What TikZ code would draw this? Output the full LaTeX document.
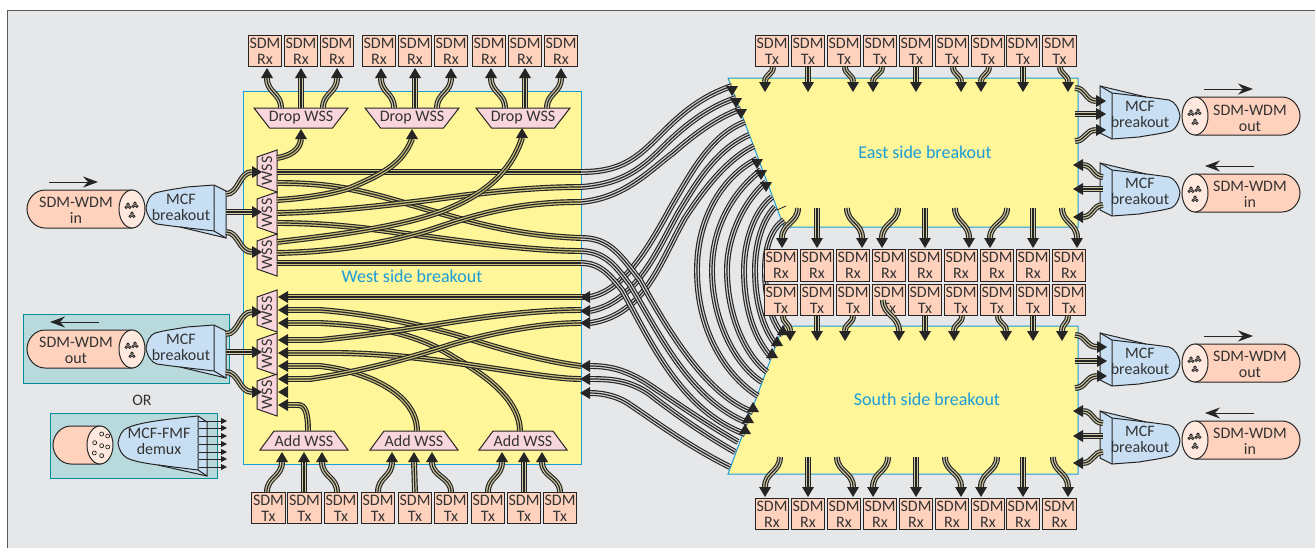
\documentclass[tikz,border=0pt]{standalone}
\usepackage{fontspec}
\setmainfont{Carlito}
\usetikzlibrary{arrows.meta}
\definecolor{cdark}{HTML}{262525}
\definecolor{ctext}{HTML}{333333}
\definecolor{cbg}{HTML}{E6E7E9}
\definecolor{cyel}{HTML}{FFF599}
\definecolor{cblue}{HTML}{1A9DD9}
\definecolor{cpeach}{HTML}{FFD2BE}
\definecolor{cpeachl}{HTML}{FFE8DD}
\definecolor{cpink}{HTML}{F9D5DC}
\definecolor{cmcf}{HTML}{C8DFF3}
\definecolor{cteal}{HTML}{B9DADC}
\definecolor{ctealb}{HTML}{008C99}
\tikzset{
  cableY/.style={draw=cdark,line width=5.9pt,postaction={draw=cyel!80!black,line width=3.6pt},postaction={draw=cdark,line width=1.2pt}},
  cableG/.style={draw=cdark,line width=5.9pt,postaction={draw=cbg!92!black,line width=3.6pt},postaction={draw=cdark,line width=1.2pt}},
  cableM/.style={draw=cdark,line width=5.9pt,postaction={draw=cbg!50!cyel!85!black,line width=3.6pt},postaction={draw=cdark,line width=1.2pt}},
  sdm/.style={draw=cdark,line width=1.2pt,fill=cpeach,minimum width=33.5pt,minimum height=31.5pt,inner sep=0pt,align=center,text=ctext,font=\fontsize{16}{16}\selectfont},
  lab/.style={inner sep=0pt,align=center,text=ctext,font=\fontsize{16}{16}\selectfont},
  area/.style={draw=cblue,line width=1pt,fill=cyel},
  arealab/.style={inner sep=0pt,text=cblue,font=\fontsize{18}{20}\selectfont},
  wssbox/.style={draw=cdark,line width=1pt,fill=cpink},
  tealbox/.style={draw=ctealb,line width=1pt,fill=cteal},
  flowarrow/.style={draw=cdark,line width=1pt,-{Stealth[length=15pt,width=11pt,inset=5pt]}},
  thinarrow/.style={draw=cdark,line width=.8pt,-{Triangle[length=6pt,width=6pt]}},
}
\newcommand\captip[2]{\fill[cdark,shift={(#1)},rotate=#2] (0,-6) -- (10,0) -- (0,6) -- cycle;}
\newcommand\vgroup[6]{%
  \pgfmathsetmacro\midy{(#3+#4)/2}
  \foreach \n/\a/\c in {#2}{
    \coordinate (#1t\n) at (\a,#3);
    \coordinate (#1b\n) at (\c,#4);
    \draw[#6] (#1t\n) .. controls (\a,\midy) and (\c,\midy) .. (#1b\n);
    \captip{#1b\n}{#5}
  }}
\newcommand\clusters{%
  \foreach \u/\v in {-4/-3,3/-4,0/6}{
    \foreach \p/\q in {0/-1.7,-1.8/1.2,1.8/1.2}{
      \draw[cdark,line width=.8pt] (\u+\p,\v+\q) circle[radius=1.3pt];
    }}}
% fibre: ellipse centre at origin, body to the left (s=1) or right (s=-1)
\newcommand\fibre[4]{%
  \begin{scope}[shift={(#1,#2)}]
  \begin{scope}[xscale=#3]
  \filldraw[draw=cdark,line width=1pt,fill=cpeach] (0,-19) -- (#4+18,-19) .. controls (#4+8,-19) and (#4,-10) .. (#4,0) .. controls (#4,10) and (#4+8,19) .. (#4+18,19) -- (0,19) -- cycle;
  \end{scope}
  \filldraw[draw=cdark,line width=1pt,fill=cpeachl] (0,0) ellipse[x radius=13pt,y radius=19pt];
  \end{scope}}
\newcommand\mcfshape[3]{%
  \begin{scope}[shift={(#1,#2)},rotate=#3]
  \filldraw[draw=cdark,line width=1pt,fill=cmcf] (0,0) .. controls (1,-7) and (4,-13) .. (9,-15) .. controls (20,-18) and (30,-19) .. (41,-21) -- (68,-23) -- (80,-17) -- (80,30) -- (34,19) .. controls (25,18) and (18,17) .. (11,16) .. controls (6,15) and (1,8) .. (0,0) -- cycle;
  \draw[cdark,line width=1pt] (68,-23) -- (68,23) -- (80,30) (34,19) -- (68,23);
  \end{scope}}
\begin{document}
\begin{tikzpicture}[x=1pt,y=-1pt]
\useasboundingbox (0,0) rectangle (1315,547);
\fill[white] (0,0) rectangle (1315,547);
\filldraw[draw=black!65,line width=1pt,fill=cbg] (7,10) rectangle (1325,560);

% areas
\filldraw[area] (243,91) rectangle (581,464);
\filldraw[area] (728,78) -- (1078,78) -- (1078,227) -- (784,227) -- cycle;
\filldraw[area] (783,326) -- (1078,326) -- (1078,474) -- (728,474) -- cycle;
\node[arealab] (westlab) at (412,276) {West side breakout};
\node[arealab] (eastlab) at (925,152) {East side breakout};
\node[arealab] (southlab) at (927,399) {South side breakout};

% teal panels
\filldraw[tealbox] (23,314) rectangle (229,383);
\filldraw[tealbox] (50,413) rectangle (217,478);
\node[lab] (orlab) at (142,400) {OR};

% fibres
\fibre{132}{209}{1}{-105}
\begin{scope}[shift={(132,209)}]\clusters\end{scope}
\fibre{132}{349}{1}{-105}
\begin{scope}[shift={(132,349)}]\clusters\end{scope}
\fibre{100}{445}{1}{-47}
\begin{scope}[shift={(100,445)}]
\foreach \u/\v in {1.7/-11,7.7/-9,-5.3/-2.3,1.7/.7,7.7/2,-5.7/8,1.7/10.7}{\draw[cdark,line width=.7pt] (\u,\v) circle[radius=2pt];}
\end{scope}
\foreach \y in {116,193,363,440}{
  \fibre{1195}{\y}{-1}{-105}
  \begin{scope}[shift={(1195,\y)}]\clusters\end{scope}
}
\node[lab] (f1) at (76,210) {SDM-WDM\\in};
\node[lab] (f2) at (76,350) {SDM-WDM\\out};
\node[lab] (f3) at (1250,118) {SDM-WDM\\out};
\node[lab] (f4) at (1250,194) {SDM-WDM\\in};
\node[lab] (f5) at (1250,364.5) {SDM-WDM\\out};
\node[lab] (f6) at (1250,441) {SDM-WDM\\in};

% direction arrows
\foreach \n/\xa/\ya/\xb in {a/49/182/98,b/99/322/50,c/1204/89/1253,d/1254/166/1205,e/1204/336/1253,f/1254/413/1205}{
  \coordinate (dir\n s) at (\xa,\ya);
  \coordinate (dir\n e) at (\xb,\ya);
  \draw[flowarrow] (dir\n s) -- (dir\n e);
}

% MCF breakouts
\mcfshape{146}{208}{0}
\mcfshape{146}{348}{0}
\mcfshape{1180}{116}{180}
\mcfshape{1180}{193}{180}
\mcfshape{1180}{363}{180}
\mcfshape{1180}{441}{180}
\node[lab] (m1) at (181,207) {MCF\\breakout};
\node[lab] (m2) at (181,347) {MCF\\breakout};
\node[lab] (m3) at (1140,114.5) {MCF\\breakout};
\node[lab] (m4) at (1140,191.5) {MCF\\breakout};
\node[lab] (m5) at (1140,361.5) {MCF\\breakout};
\node[lab] (m6) at (1140,439.5) {MCF\\breakout};

% demux
\begin{scope}[shift={(118,443)}]
\filldraw[draw=cdark,line width=1pt,fill=cmcf] (0,0) .. controls (1,-7) and (4,-13) .. (9,-15) .. controls (20,-20) and (40,-23) .. (80,-27) -- (89,-21) -- (89,33) -- (40,22) .. controls (25,20) and (15,18) .. (9,15) .. controls (4,12) and (1,7) .. (0,0) -- cycle;
\draw[cdark,line width=1pt] (80,-27) -- (80,27) -- (89,33) (40,22) -- (80,27);
\end{scope}
\node[lab] (dmx) at (159,441) {MCF-FMF\\demux};
\foreach \n/\y in {1/421,2/428,3/436,4/444,5/452,6/459,7/467}{
  \coordinate (dx\n) at (199,\y);
  \coordinate (dy\n) at (227,\y);
  \draw[thinarrow] (dx\n) -- (dy\n);
}

% WSS shapes
\foreach \n/\c in {1/171,2/213,3/255,4/311,5/354,6/395}{
  \filldraw[wssbox] (277,\c-21) -- (277,\c+21) -- (257,\c+14) -- (257,\c-14) -- cycle;
  \node[lab,rotate=90] (wss\n) at (267,\c) {WSS};
}
\foreach \n/\c in {1/301,2/412,3/523}{
  \filldraw[wssbox] (\c-47,108) -- (\c+47,108) -- (\c+31.5,128) -- (\c-31.5,128) -- cycle;
  \node[lab] (drop\n) at (\c,118) {Drop WSS};
}
\foreach \n/\c in {1/304,2/414,3/523}{
  \filldraw[wssbox] (\c-44,450) -- (\c+44,450) -- (\c+30,431) -- (\c-30,431) -- cycle;
  \node[lab] (add\n) at (\c,441) {Add WSS};
}

% named ports
\foreach \n/\x/\y in {
 wa/277/172,wb/277/183,wc/277/158,wd/277/200,we/277/213,wf/277/223,wg/277/242,wh/277/253,wi/277/263,
 be1/581/172,be2/581/187,be3/581/202,bs1/581/238,bs2/581/251,bs3/581/263,
 dp1/301/139,dp2/412/139,dp3/522/138,
 ia1/288/297,ia2/288/310,ia3/288/323,ib1/288/340,ib2/288/353,ib3/288/366,ic1/288/379,ic2/288/392,ic3/288/405,
 ra1/590/297,ra2/590/311,ra3/590/323,rb1/590/366,rb2/590/379,rb3/590/393,
 ee1/732/86,ee2/736/98,ee3/741/109,et1/745/122,et2/749/135,et3/754/146,
 ef1/757/159,ef2/761/170,ef3/766/182,eg1/772/197,eg2/775/207,eg3/784/220,
 sh1/783/335,sh2/777/346,sh3/772/358,si1/767/372,si2/762/382,si3/758/396,
 sj1/753/412,sj2/748/423,sj3/745/434,sk1/738/442,sk2/735/452,sk3/730/467,
 addp1/308/431,addp2/417/431,addp3/520/431,strayA/777/210,strayB/786/206}{
  \coordinate (\n) at (\x,\y);
}

% west interior cables
\draw[cableY] (wa) -- (be1);
\draw[cableY] (wi) -- (bs3);
\draw[cableY] (ia1) -- (ra1);
\draw[cableY] (wb) .. controls (320,183) and (345,187) .. (380,196) .. controls (450,215) and (500,235) .. (bs1);
\draw[cableY] (we) .. controls (330,212) and (380,206) .. (430,200) .. controls (480,193) and (530,187) .. (be2);
\draw[cableY] (wf) .. controls (320,223) and (360,227) .. (400,233) .. controls (460,241) and (530,251) .. (bs2);
\draw[cableY] (wh) .. controls (330,252) and (380,245) .. (430,230) .. controls (480,213) and (520,202) .. (be3);
\draw[cableY] (wc) .. controls (290,156) and (300,150) .. (dp1);
\draw[cableY] (wd) .. controls (310,198) and (335,193) .. (350,188) .. controls (380,175) and (402,165) .. (dp2);
\draw[cableY] (wg) .. controls (330,236) and (395,228) .. (440,212) .. controls (480,197) and (510,175) .. (dp3);

\draw[cableY] (ia2) -- (320,310) .. controls (375,314) and (435,328) .. (473,340) .. controls (510,352) and (550,362) .. (581,366);
\draw[cableY] (ia3) -- (320,323) .. controls (380,326) and (420,335) .. (455,358) .. controls (495,380) and (520,405) .. (addp3);
\draw[cableY] (ib1) -- (320,340) .. controls (360,336) and (395,331) .. (427,326) .. controls (475,318) and (530,310) .. (581,310);
\draw[cableY] (ib2) -- (340,353) .. controls (400,354) and (450,362) .. (490,368) .. controls (530,374) and (560,379) .. (581,379);
\draw[cableY] (ib3) -- (320,366) .. controls (370,372) and (417,395) .. (addp2);
\draw[cableY] (ic1) -- (310,379) .. controls (360,372) and (410,358) .. (450,345) .. controls (490,333) and (540,323) .. (581,323);
\draw[cableY] (ic3) -- (298,405) .. controls (305,405) and (308,412) .. (addp1);

% west <-> east
\draw[cableG] (be1) .. controls (625,172) and (640,155) .. (665,130) .. controls (685,110) and (705,95) .. (ee1);
\draw[cableG] (be2) .. controls (625,184) and (645,165) .. (663,147) .. controls (680,130) and (705,108) .. (ee2);
\draw[cableG] (be3) .. controls (625,198) and (650,170) .. (673,153) .. controls (690,138) and (715,118) .. (ee3);
\draw[cableG] (et1) .. controls (710,135) and (690,175) .. (672,205) .. controls (650,245) and (625,290) .. (ra1);
\draw[cableG] (et2) .. controls (715,150) and (695,185) .. (678,213) .. controls (655,255) and (635,302) .. (ra2);
\draw[cableG] (et3) .. controls (725,160) and (700,195) .. (685,218) .. controls (660,262) and (645,315) .. (ra3);
% west <-> south
\draw[cableG] (sk1) .. controls (700,420) and (665,395) .. (645,382) .. controls (625,370) and (610,366) .. (rb1);
\draw[cableG] (sk2) .. controls (700,432) and (670,410) .. (648,393) .. controls (628,380) and (610,379) .. (rb2);
\draw[cableG] (sk3) .. controls (690,447) and (660,425) .. (632,406) .. controls (620,397) and (605,393) .. (rb3);
\draw[cableG] (bs1) .. controls (610,238) and (620,255) .. (640,280) .. controls (665,325) and (705,395) .. (sj1);
\draw[cableG] (bs2) .. controls (605,252) and (615,265) .. (630,285) .. controls (660,335) and (690,400) .. (sj2);
\draw[cableG] (bs3) .. controls (600,263) and (610,275) .. (622,290) .. controls (650,340) and (680,410) .. (sj3);
% east <-> south arcs
\draw[cableG] (si3) .. controls (725,375) and (697,330) .. (697,270) .. controls (697,215) and (725,175) .. (ef1);
\draw[cableG] (si2) .. controls (735,365) and (712,320) .. (712,270) .. controls (712,225) and (735,190) .. (ef2);
\draw[cableG] (si1) .. controls (745,355) and (727,315) .. (727,270) .. controls (727,235) and (745,200) .. (ef3);
\draw[cableG] (eg1) .. controls (755,210) and (744,240) .. (744,270) .. controls (744,310) and (755,340) .. (sh3);
\draw[cableG] (eg2) .. controls (762,220) and (755,245) .. (755,270) .. controls (755,300) and (762,328) .. (sh2);
\draw[cableG] (eg3) .. controls (772,228) and (765,245) .. (765,270) .. controls (765,295) and (770,320) .. (sh1);
\draw[cdark,line width=.8pt] (strayA) -- (strayB);

% SDM boxes
\foreach \n/\x in {1/265,2/301,3/337,4/379,5/415,6/451,7/489,8/525,9/561}{
  \node[sdm] (wrx\n) at (\x,51) {SDM\\Rx};
}
\foreach \n/\x in {1/268.5,2/304.5,3/341,4/378,5/415,6/451,7/488,8/524,9/560}{
  \node[sdm] (wtx\n) at (\x,508) {SDM\\Tx};
}
\foreach \n/\x in {1/772,2/808,3/844,4/880,5/916,6/952,7/988,8/1023,9/1059.5}{
  \node[sdm] (etx\n) at (\x,51) {SDM\\Tx};
  \node[sdm] (srx\n) at (\x,514) {SDM\\Rx};
}
\foreach \n/\x in {1/781,2/817,3/853,4/889,5/925,6/961,7/997,8/1033,9/1069}{
  \node[sdm] (mrx\n) at (\x,265.5) {SDM\\Rx};
  \node[sdm] (mtx\n) at (\x,300) {SDM\\Tx};
}

% vertical connectors
\vgroup{dr}{1/281/267,2/301/301,3/323/337,4/394/381,5/415/415,6/437/451,7/505/491,8/525/525,9/547/561}{108}{78}{90}{cableM}
\vgroup{ad}{1/267/282,2/304/304,3/337/322,4/378/392,5/415/414,6/451/432,7/488/502,8/524/524,9/560/542}{492}{462}{90}{cableM}
\vgroup{et}{1/773/765,2/808/808,3/845/853,4/882/873,5/916/916,6/953/961,7/989/981,8/1023/1023,9/1060/1068}{67}{82}{-90}{cableM}
\vgroup{em}{1/798/782,2/817/817,3/847/862,4/898/882,5/925/925,6/955/969,7/1007/990,8/1033/1033,9/1062/1077}{208}{238}{-90}{cableM}
\vgroup{ms}{1/783/790,2/817/817,3/853/845,5/925/925,6/962/954,7/998/1006,8/1033/1033,9/1068/1062}{316}{331}{-90}{cableM}
\vgroup{mt}{4/883/899}{300}{331}{-90}{cableM}
\vgroup{sr}{1/780/765,2/808/808,3/837/853,4/888/873,5/916/916,6/945/961,7/997/981,8/1023/1023,9/1053/1068}{457}{487}{-90}{cableM}

% cables to and from the MCF breakouts
\foreach \n/\xa/\ya/\xb/\yb/\ang in {
 a/226/194/252/172/0,b/226/212/252/212/0,c/226/232/252/252/0,
 d/226/334/252/312/0,e/226/352/252/352/0,f/226/372/252/392/0,
 g/1075/88/1096/101/0,h/1075/114/1096/114/0,i/1075/141/1096/130/0,
 j/1103/177/1083/165/180,k/1103/189/1083/189/180,l/1103/205/1083/217/180,
 m/1075/335/1097/347/0,n/1075/361/1097/361/0,o/1075/388/1097/376/0,
 p/1103/423/1083/411/180,q/1103/436/1083/436/180,r/1103/452/1083/463/180}{
  \pgfmathsetmacro\mx{(\xa+\xb)/2}
  \coordinate (ms\n) at (\xa,\ya);
  \coordinate (me\n) at (\xb,\yb);
  \draw[cableM] (ms\n) .. controls (\mx,\ya) and (\mx,\yb) .. (me\n);
  \captip{me\n}{\ang}
}

% arrowheads
\foreach \n in {ia1,ia2,ia3,ib1,ib2,ib3,ic1,ic2,ic3,ra1,ra2,ra3,rb1,rb2,rb3}{\captip{\n}{180}}
\foreach \n in {dp1,dp2,dp3}{\captip{\n}{90}}
\foreach \n in {ee1,ee2,ee3,ef1,ef2,ef3}{\captip{\n}{-90}}
\foreach \n in {sh1,sh2,sh3,sj1,sj2,sj3}{\captip{\n}{90}}
\end{tikzpicture}
\end{document}
